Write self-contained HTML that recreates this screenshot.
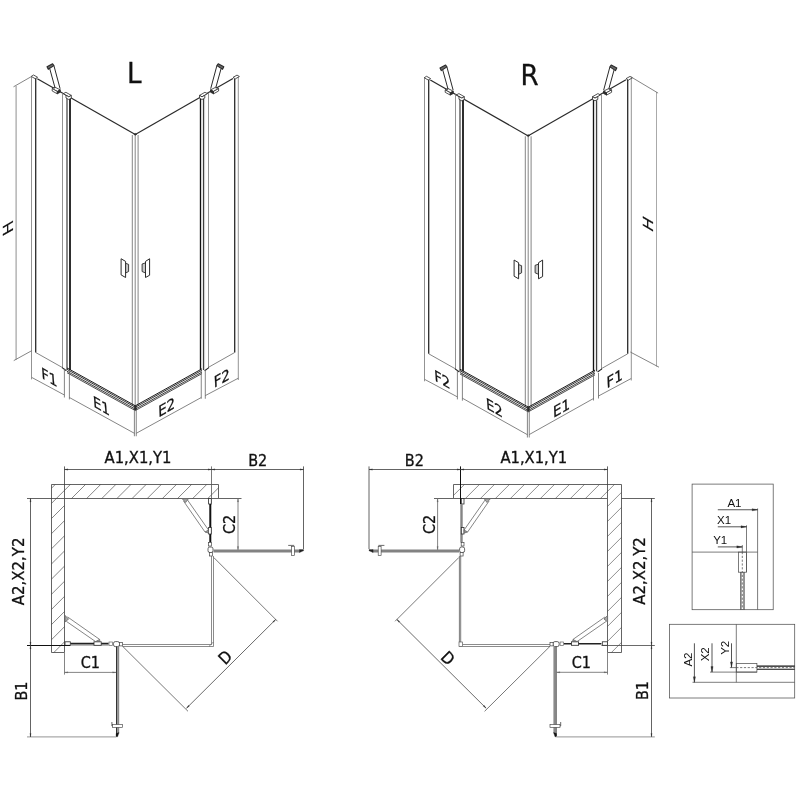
<!DOCTYPE html>
<html><head><meta charset="utf-8"><title>L / R</title>
<style>
html,body{margin:0;padding:0;background:#fff;}
body{width:800px;height:800px;overflow:hidden;}
svg{display:block;filter:grayscale(1);}
.t{font-family:"DejaVu Sans Condensed","DejaVu Sans","Liberation Sans",sans-serif;font-stretch:condensed;fill:#111;stroke:#111;stroke-width:0.3px;}
.a{font-family:"Liberation Sans","DejaVu Sans",sans-serif;fill:#111;}
</style></head><body>
<svg width="800" height="800" viewBox="0 0 800 800">
<rect width="800" height="800" fill="#fff"/>
<defs><clipPath id="wl"><polygon points="51.50,484.50 218.50,484.50 218.50,498.50 64.50,498.50 64.50,652.50 51.50,652.50"/></clipPath><clipPath id="wr"><polygon points="621.50,484.50 453.50,484.50 453.50,498.50 607.50,498.50 607.50,652.50 621.50,652.50"/></clipPath></defs>
<g transform="translate(0,0)">
<line x1="31.50" y1="76.50" x2="31.50" y2="379.40" stroke="#777" stroke-width="0.8" />
<line x1="35.70" y1="78.00" x2="35.70" y2="352.50" stroke="#2a2a2a" stroke-width="1.3" />
<polygon points="31.20,76.40 33.60,75.00 37.60,77.30 35.20,78.70" fill="#fff" stroke="#2a2a2a" stroke-width="0.8" stroke-linejoin="round"/>
<line x1="37.30" y1="78.80" x2="135.30" y2="134.60" stroke="#2a2a2a" stroke-width="1.2" />
<line x1="135.30" y1="134.50" x2="233.00" y2="78.50" stroke="#2a2a2a" stroke-width="1.2" />
<line x1="62.50" y1="92.80" x2="62.50" y2="368.00" stroke="#777" stroke-width="0.8" />
<line x1="67.00" y1="98.00" x2="67.00" y2="370.00" stroke="#858585" stroke-width="1.9" />
<line x1="70.00" y1="98.00" x2="70.00" y2="370.00" stroke="#2e2e2e" stroke-width="2.0" />
<polygon points="63.40,93.60 65.90,92.30 71.30,95.40 68.80,96.80" fill="#fff" stroke="#2a2a2a" stroke-width="0.8" stroke-linejoin="round"/>
<polygon points="66.00,95.30 68.80,96.80 71.30,95.40 71.30,98.20 68.80,99.50 66.00,98.00" fill="#fff" stroke="#2a2a2a" stroke-width="0.8" stroke-linejoin="round"/>
<line x1="132.30" y1="135.00" x2="132.30" y2="406.00" stroke="#666" stroke-width="0.8" />
<line x1="135.20" y1="135.00" x2="135.20" y2="406.00" stroke="#666" stroke-width="0.8" />
<line x1="138.10" y1="135.00" x2="138.10" y2="406.00" stroke="#666" stroke-width="0.8" />
<polygon points="133.80,134.20 135.30,133.40 136.80,134.20 135.30,135.30" fill="#2a2a2a" stroke="#2a2a2a" stroke-width="0.6" stroke-linejoin="round"/>
<line x1="200.50" y1="98.00" x2="200.50" y2="370.00" stroke="#111" stroke-width="1.35" />
<line x1="203.40" y1="99.00" x2="203.40" y2="370.00" stroke="#2a2a2a" stroke-width="1.0" />
<line x1="204.60" y1="98.00" x2="204.60" y2="370.00" stroke="#bbb" stroke-width="0.7" />
<line x1="208.50" y1="92.80" x2="208.50" y2="368.00" stroke="#777" stroke-width="0.8" />
<polygon points="199.50,95.40 204.90,92.30 207.40,93.60 202.00,96.80" fill="#fff" stroke="#2a2a2a" stroke-width="0.8" stroke-linejoin="round"/>
<polygon points="199.50,95.40 202.00,96.80 204.80,95.30 204.80,98.00 202.00,99.50 199.50,98.20" fill="#fff" stroke="#2a2a2a" stroke-width="0.8" stroke-linejoin="round"/>
<line x1="234.70" y1="78.70" x2="234.70" y2="352.50" stroke="#2a2a2a" stroke-width="1.3" />
<line x1="238.30" y1="76.80" x2="238.30" y2="380.00" stroke="#777" stroke-width="0.8" />
<polygon points="233.00,77.40 237.00,75.10 239.40,76.50 235.40,78.80" fill="#fff" stroke="#2a2a2a" stroke-width="0.8" stroke-linejoin="round"/>
<line x1="35.70" y1="352.50" x2="62.50" y2="367.60" stroke="#666" stroke-width="0.8" />
<line x1="234.70" y1="352.50" x2="208.50" y2="367.30" stroke="#666" stroke-width="0.8" />
<line x1="67.00" y1="367.94" x2="135.30" y2="405.80" stroke="#1c1c1c" stroke-width="1.0" />
<line x1="202.00" y1="368.80" x2="135.30" y2="405.80" stroke="#1c1c1c" stroke-width="1.0" />
<line x1="67.00" y1="369.39" x2="135.30" y2="407.25" stroke="#2a2a2a" stroke-width="0.95" />
<line x1="202.00" y1="370.25" x2="135.30" y2="407.25" stroke="#2a2a2a" stroke-width="0.95" />
<line x1="67.00" y1="371.24" x2="135.30" y2="409.10" stroke="#333" stroke-width="0.95" />
<line x1="202.00" y1="372.10" x2="135.30" y2="409.10" stroke="#333" stroke-width="0.95" />
<line x1="67.00" y1="372.69" x2="135.30" y2="410.55" stroke="#444" stroke-width="0.95" />
<line x1="202.00" y1="373.55" x2="135.30" y2="410.55" stroke="#444" stroke-width="0.95" />
<polygon points="134.30,405.50 136.30,405.50 136.30,410.00 134.30,410.00" fill="#2a2a2a" stroke="#2a2a2a" stroke-width="0.6" stroke-linejoin="round"/>
<line x1="62.10" y1="367.60" x2="66.40" y2="370.70" stroke="#222" stroke-width="1.1" />
<line x1="208.90" y1="367.60" x2="204.60" y2="370.70" stroke="#222" stroke-width="1.1" />
<polygon points="47.00,66.80 52.60,63.70 53.90,65.60 48.25,69.30" fill="#6a6a6a" stroke="#2a2a2a" stroke-width="1.1" stroke-linejoin="round"/>
<line x1="49.75" y1="68.70" x2="55.10" y2="88.10" stroke="#2a2a2a" stroke-width="1.0" />
<line x1="53.90" y1="65.60" x2="60.10" y2="88.70" stroke="#2a2a2a" stroke-width="1.0" />
<polygon points="52.20,88.60 55.00,87.20 60.30,89.90 57.30,91.40" fill="#fff" stroke="#2a2a2a" stroke-width="0.8" stroke-linejoin="round"/>
<polygon points="52.20,88.60 57.30,91.40 57.30,93.80 52.20,91.00" fill="#fff" stroke="#2a2a2a" stroke-width="0.8" stroke-linejoin="round"/>
<polygon points="57.30,91.40 60.30,89.90 60.30,92.20 57.30,93.80" fill="#2a2a2a" stroke="#2a2a2a" stroke-width="0.8" stroke-linejoin="round"/>
<line x1="53.60" y1="87.90" x2="55.10" y2="88.10" stroke="#2a2a2a" stroke-width="0.8" />
<polygon points="223.80,66.80 218.20,63.70 216.90,65.60 222.55,69.30" fill="#6a6a6a" stroke="#2a2a2a" stroke-width="1.1" stroke-linejoin="round"/>
<line x1="221.05" y1="68.70" x2="215.70" y2="88.10" stroke="#2a2a2a" stroke-width="1.0" />
<line x1="216.90" y1="65.60" x2="210.70" y2="88.70" stroke="#2a2a2a" stroke-width="1.0" />
<polygon points="218.60,88.60 215.80,87.20 210.50,89.90 213.50,91.40" fill="#fff" stroke="#2a2a2a" stroke-width="0.8" stroke-linejoin="round"/>
<polygon points="218.60,88.60 213.50,91.40 213.50,93.80 218.60,91.00" fill="#fff" stroke="#2a2a2a" stroke-width="0.8" stroke-linejoin="round"/>
<polygon points="213.50,91.40 210.50,89.90 210.50,92.20 213.50,93.80" fill="#2a2a2a" stroke="#2a2a2a" stroke-width="0.8" stroke-linejoin="round"/>
<line x1="217.20" y1="87.90" x2="215.70" y2="88.10" stroke="#2a2a2a" stroke-width="0.8" />
<polygon points="121.10,258.75 125.60,261.40 125.60,277.50 121.10,274.90" fill="#fff" stroke="#2a2a2a" stroke-width="1.0" stroke-linejoin="round"/>
<polygon points="125.60,263.30 128.60,264.40 128.60,271.50 125.60,273.00" fill="#c8c8c8" stroke="#2a2a2a" stroke-width="0.9" stroke-linejoin="round"/>
<polygon points="145.50,261.40 149.60,258.75 149.60,275.25 145.50,277.50" fill="#fff" stroke="#2a2a2a" stroke-width="1.0" stroke-linejoin="round"/>
<polygon points="142.10,264.00 145.50,262.90 145.50,273.00 142.10,271.50" fill="#c8c8c8" stroke="#2a2a2a" stroke-width="0.9" stroke-linejoin="round"/>
<g>
<line x1="64.40" y1="368.75" x2="64.40" y2="397.50" stroke="#666" stroke-width="0.8" />
<line x1="31.90" y1="377.50" x2="64.40" y2="395.00" stroke="#666" stroke-width="0.8" />
<line x1="69.40" y1="371.00" x2="69.40" y2="399.40" stroke="#666" stroke-width="0.8" />
<line x1="134.40" y1="410.00" x2="134.40" y2="436.25" stroke="#666" stroke-width="0.8" />
<line x1="69.40" y1="397.50" x2="134.40" y2="433.30" stroke="#666" stroke-width="0.8" />
<line x1="136.25" y1="410.00" x2="136.25" y2="436.25" stroke="#666" stroke-width="0.8" />
<line x1="201.25" y1="370.00" x2="201.25" y2="398.75" stroke="#666" stroke-width="0.8" />
<line x1="136.25" y1="433.30" x2="201.25" y2="397.50" stroke="#666" stroke-width="0.8" />
<line x1="205.30" y1="370.00" x2="205.30" y2="398.75" stroke="#666" stroke-width="0.8" />
<line x1="205.30" y1="395.60" x2="238.30" y2="378.20" stroke="#666" stroke-width="0.8" />
</g>
</g>
<g transform="translate(393,1.3)">
<line x1="31.50" y1="76.50" x2="31.50" y2="380.00" stroke="#777" stroke-width="0.8" />
<line x1="35.70" y1="78.00" x2="35.70" y2="352.50" stroke="#2a2a2a" stroke-width="1.3" />
<polygon points="31.20,76.40 33.60,75.00 37.60,77.30 35.20,78.70" fill="#fff" stroke="#2a2a2a" stroke-width="0.8" stroke-linejoin="round"/>
<line x1="37.30" y1="78.80" x2="135.30" y2="134.60" stroke="#2a2a2a" stroke-width="1.2" />
<line x1="135.30" y1="134.50" x2="233.00" y2="78.50" stroke="#2a2a2a" stroke-width="1.2" />
<line x1="62.50" y1="92.80" x2="62.50" y2="368.00" stroke="#777" stroke-width="0.8" />
<line x1="67.00" y1="98.00" x2="67.00" y2="370.00" stroke="#858585" stroke-width="1.9" />
<line x1="70.00" y1="98.00" x2="70.00" y2="370.00" stroke="#2e2e2e" stroke-width="2.0" />
<polygon points="63.40,93.60 65.90,92.30 71.30,95.40 68.80,96.80" fill="#fff" stroke="#2a2a2a" stroke-width="0.8" stroke-linejoin="round"/>
<polygon points="66.00,95.30 68.80,96.80 71.30,95.40 71.30,98.20 68.80,99.50 66.00,98.00" fill="#fff" stroke="#2a2a2a" stroke-width="0.8" stroke-linejoin="round"/>
<line x1="132.30" y1="135.00" x2="132.30" y2="406.00" stroke="#666" stroke-width="0.8" />
<line x1="135.20" y1="135.00" x2="135.20" y2="406.00" stroke="#666" stroke-width="0.8" />
<line x1="138.10" y1="135.00" x2="138.10" y2="406.00" stroke="#666" stroke-width="0.8" />
<polygon points="133.80,134.20 135.30,133.40 136.80,134.20 135.30,135.30" fill="#2a2a2a" stroke="#2a2a2a" stroke-width="0.6" stroke-linejoin="round"/>
<line x1="200.50" y1="98.00" x2="200.50" y2="370.00" stroke="#111" stroke-width="1.35" />
<line x1="203.40" y1="99.00" x2="203.40" y2="370.00" stroke="#2a2a2a" stroke-width="1.0" />
<line x1="204.60" y1="98.00" x2="204.60" y2="370.00" stroke="#bbb" stroke-width="0.7" />
<line x1="208.50" y1="92.80" x2="208.50" y2="368.00" stroke="#777" stroke-width="0.8" />
<polygon points="199.50,95.40 204.90,92.30 207.40,93.60 202.00,96.80" fill="#fff" stroke="#2a2a2a" stroke-width="0.8" stroke-linejoin="round"/>
<polygon points="199.50,95.40 202.00,96.80 204.80,95.30 204.80,98.00 202.00,99.50 199.50,98.20" fill="#fff" stroke="#2a2a2a" stroke-width="0.8" stroke-linejoin="round"/>
<line x1="234.70" y1="78.70" x2="234.70" y2="352.50" stroke="#2a2a2a" stroke-width="1.3" />
<line x1="238.30" y1="76.80" x2="238.30" y2="379.20" stroke="#777" stroke-width="0.8" />
<polygon points="233.00,77.40 237.00,75.10 239.40,76.50 235.40,78.80" fill="#fff" stroke="#2a2a2a" stroke-width="0.8" stroke-linejoin="round"/>
<line x1="35.70" y1="352.50" x2="62.50" y2="367.60" stroke="#666" stroke-width="0.8" />
<line x1="234.70" y1="352.50" x2="208.50" y2="367.30" stroke="#666" stroke-width="0.8" />
<line x1="67.00" y1="367.94" x2="135.30" y2="405.80" stroke="#1c1c1c" stroke-width="1.0" />
<line x1="202.00" y1="368.80" x2="135.30" y2="405.80" stroke="#1c1c1c" stroke-width="1.0" />
<line x1="67.00" y1="369.39" x2="135.30" y2="407.25" stroke="#2a2a2a" stroke-width="0.95" />
<line x1="202.00" y1="370.25" x2="135.30" y2="407.25" stroke="#2a2a2a" stroke-width="0.95" />
<line x1="67.00" y1="371.24" x2="135.30" y2="409.10" stroke="#333" stroke-width="0.95" />
<line x1="202.00" y1="372.10" x2="135.30" y2="409.10" stroke="#333" stroke-width="0.95" />
<line x1="67.00" y1="372.69" x2="135.30" y2="410.55" stroke="#444" stroke-width="0.95" />
<line x1="202.00" y1="373.55" x2="135.30" y2="410.55" stroke="#444" stroke-width="0.95" />
<polygon points="134.30,405.50 136.30,405.50 136.30,410.00 134.30,410.00" fill="#2a2a2a" stroke="#2a2a2a" stroke-width="0.6" stroke-linejoin="round"/>
<line x1="62.10" y1="367.60" x2="66.40" y2="370.70" stroke="#222" stroke-width="1.1" />
<line x1="208.90" y1="367.60" x2="204.60" y2="370.70" stroke="#222" stroke-width="1.1" />
<polygon points="47.00,66.80 52.60,63.70 53.90,65.60 48.25,69.30" fill="#6a6a6a" stroke="#2a2a2a" stroke-width="1.1" stroke-linejoin="round"/>
<line x1="49.75" y1="68.70" x2="55.10" y2="88.10" stroke="#2a2a2a" stroke-width="1.0" />
<line x1="53.90" y1="65.60" x2="60.10" y2="88.70" stroke="#2a2a2a" stroke-width="1.0" />
<polygon points="52.20,88.60 55.00,87.20 60.30,89.90 57.30,91.40" fill="#fff" stroke="#2a2a2a" stroke-width="0.8" stroke-linejoin="round"/>
<polygon points="52.20,88.60 57.30,91.40 57.30,93.80 52.20,91.00" fill="#fff" stroke="#2a2a2a" stroke-width="0.8" stroke-linejoin="round"/>
<polygon points="57.30,91.40 60.30,89.90 60.30,92.20 57.30,93.80" fill="#2a2a2a" stroke="#2a2a2a" stroke-width="0.8" stroke-linejoin="round"/>
<line x1="53.60" y1="87.90" x2="55.10" y2="88.10" stroke="#2a2a2a" stroke-width="0.8" />
<polygon points="223.80,66.80 218.20,63.70 216.90,65.60 222.55,69.30" fill="#6a6a6a" stroke="#2a2a2a" stroke-width="1.1" stroke-linejoin="round"/>
<line x1="221.05" y1="68.70" x2="215.70" y2="88.10" stroke="#2a2a2a" stroke-width="1.0" />
<line x1="216.90" y1="65.60" x2="210.70" y2="88.70" stroke="#2a2a2a" stroke-width="1.0" />
<polygon points="218.60,88.60 215.80,87.20 210.50,89.90 213.50,91.40" fill="#fff" stroke="#2a2a2a" stroke-width="0.8" stroke-linejoin="round"/>
<polygon points="218.60,88.60 213.50,91.40 213.50,93.80 218.60,91.00" fill="#fff" stroke="#2a2a2a" stroke-width="0.8" stroke-linejoin="round"/>
<polygon points="213.50,91.40 210.50,89.90 210.50,92.20 213.50,93.80" fill="#2a2a2a" stroke="#2a2a2a" stroke-width="0.8" stroke-linejoin="round"/>
<line x1="217.20" y1="87.90" x2="215.70" y2="88.10" stroke="#2a2a2a" stroke-width="0.8" />
<polygon points="121.10,258.75 125.60,261.40 125.60,277.50 121.10,274.90" fill="#fff" stroke="#2a2a2a" stroke-width="1.0" stroke-linejoin="round"/>
<polygon points="125.60,263.30 128.60,264.40 128.60,271.50 125.60,273.00" fill="#c8c8c8" stroke="#2a2a2a" stroke-width="0.9" stroke-linejoin="round"/>
<polygon points="145.50,261.40 149.60,258.75 149.60,275.25 145.50,277.50" fill="#fff" stroke="#2a2a2a" stroke-width="1.0" stroke-linejoin="round"/>
<polygon points="142.10,264.00 145.50,262.90 145.50,273.00 142.10,271.50" fill="#c8c8c8" stroke="#2a2a2a" stroke-width="0.9" stroke-linejoin="round"/>
</g>
<line x1="457.40" y1="370.60" x2="457.40" y2="399.40" stroke="#666" stroke-width="0.8" />
<line x1="424.70" y1="379.40" x2="457.40" y2="396.90" stroke="#666" stroke-width="0.8" />
<line x1="462.40" y1="372.30" x2="462.40" y2="400.70" stroke="#666" stroke-width="0.8" />
<line x1="527.40" y1="411.30" x2="527.40" y2="437.50" stroke="#666" stroke-width="0.8" />
<line x1="462.40" y1="398.20" x2="527.40" y2="434.70" stroke="#666" stroke-width="0.8" />
<line x1="529.25" y1="411.30" x2="529.25" y2="437.50" stroke="#666" stroke-width="0.8" />
<line x1="593.50" y1="373.00" x2="593.50" y2="400.50" stroke="#666" stroke-width="0.8" />
<line x1="529.25" y1="434.55" x2="593.50" y2="398.50" stroke="#666" stroke-width="0.8" />
<line x1="598.50" y1="373.00" x2="598.50" y2="398.50" stroke="#666" stroke-width="0.8" />
<line x1="598.50" y1="396.00" x2="631.20" y2="378.50" stroke="#666" stroke-width="0.8" />
<line x1="16.10" y1="86.00" x2="16.10" y2="359.75" stroke="#999" stroke-width="1.1" />
<line x1="31.50" y1="76.50" x2="13.50" y2="86.80" stroke="#666" stroke-width="0.8" />
<line x1="31.90" y1="350.60" x2="13.75" y2="360.60" stroke="#666" stroke-width="0.8" />
<line x1="656.50" y1="92.00" x2="656.50" y2="366.50" stroke="#aaa" stroke-width="1.0" />
<line x1="631.00" y1="76.90" x2="658.10" y2="93.10" stroke="#666" stroke-width="0.8" />
<line x1="630.30" y1="352.00" x2="659.00" y2="367.20" stroke="#666" stroke-width="0.8" />
<text class="t" font-size="16" text-anchor="start" transform="matrix(0.92,0.53,0.08,0.96,41.7,378.0)" >F1</text>
<text class="t" font-size="16" text-anchor="start" transform="matrix(0.92,0.53,0.08,0.96,93.4,406.5)" >E1</text>
<text class="t" font-size="16" text-anchor="start" transform="matrix(0.92,-0.53,0.04,0.95,158.4,417.4)" >E2</text>
<text class="t" font-size="16" text-anchor="start" transform="matrix(0.92,-0.53,0.04,0.95,214.0,388.1)" >F2</text>
<text class="t" font-size="16" text-anchor="start" transform="matrix(0.92,0.53,0.08,0.96,434.7,380.4)" >F2</text>
<text class="t" font-size="16" text-anchor="start" transform="matrix(0.92,0.53,0.08,0.96,486.4,408.5)" >E2</text>
<text class="t" font-size="16" text-anchor="start" transform="matrix(0.92,-0.53,0.04,0.95,553.3,418.1)" >E1</text>
<text class="t" font-size="16" text-anchor="start" transform="matrix(0.92,-0.53,0.04,0.95,606.8,388.4)" >F1</text>
<text class="t" font-size="16" text-anchor="start" transform="matrix(0,-1.15,0.866,-0.5,13.3,231.6)" style="stroke-width:0.15px">H</text>
<text class="t" font-size="16" text-anchor="start" transform="matrix(0,-1.15,0.866,0.5,652.9,233.1)" style="stroke-width:0.2px">H</text>
<text class="t" x="127.10" y="82.90" font-size="29" text-anchor="start" >L</text>
<text class="t" x="520.60" y="84.60" font-size="29" text-anchor="start" >R</text>
<g clip-path="url(#wl)">
<line x1="124.55" y1="400.00" x2="-175.45" y2="700.00" stroke="#444" stroke-width="0.65" />
<line x1="139.70" y1="400.00" x2="-160.30" y2="700.00" stroke="#444" stroke-width="0.65" />
<line x1="154.85" y1="400.00" x2="-145.15" y2="700.00" stroke="#444" stroke-width="0.65" />
<line x1="170.00" y1="400.00" x2="-130.00" y2="700.00" stroke="#444" stroke-width="0.65" />
<line x1="185.15" y1="400.00" x2="-114.85" y2="700.00" stroke="#444" stroke-width="0.65" />
<line x1="200.30" y1="400.00" x2="-99.70" y2="700.00" stroke="#444" stroke-width="0.65" />
<line x1="215.45" y1="400.00" x2="-84.55" y2="700.00" stroke="#444" stroke-width="0.65" />
<line x1="230.60" y1="400.00" x2="-69.40" y2="700.00" stroke="#444" stroke-width="0.65" />
<line x1="245.75" y1="400.00" x2="-54.25" y2="700.00" stroke="#444" stroke-width="0.65" />
<line x1="260.90" y1="400.00" x2="-39.10" y2="700.00" stroke="#444" stroke-width="0.65" />
<line x1="276.05" y1="400.00" x2="-23.95" y2="700.00" stroke="#444" stroke-width="0.65" />
<line x1="291.20" y1="400.00" x2="-8.80" y2="700.00" stroke="#444" stroke-width="0.65" />
<line x1="306.35" y1="400.00" x2="6.35" y2="700.00" stroke="#444" stroke-width="0.65" />
<line x1="321.50" y1="400.00" x2="21.50" y2="700.00" stroke="#444" stroke-width="0.65" />
<line x1="336.65" y1="400.00" x2="36.65" y2="700.00" stroke="#444" stroke-width="0.65" />
<line x1="351.80" y1="400.00" x2="51.80" y2="700.00" stroke="#444" stroke-width="0.65" />
<line x1="366.95" y1="400.00" x2="66.95" y2="700.00" stroke="#444" stroke-width="0.65" />
<line x1="382.10" y1="400.00" x2="82.10" y2="700.00" stroke="#444" stroke-width="0.65" />
<line x1="397.25" y1="400.00" x2="97.25" y2="700.00" stroke="#444" stroke-width="0.65" />
<line x1="412.40" y1="400.00" x2="112.40" y2="700.00" stroke="#444" stroke-width="0.65" />
<line x1="427.55" y1="400.00" x2="127.55" y2="700.00" stroke="#444" stroke-width="0.65" />
<line x1="442.70" y1="400.00" x2="142.70" y2="700.00" stroke="#444" stroke-width="0.65" />
<line x1="457.85" y1="400.00" x2="157.85" y2="700.00" stroke="#444" stroke-width="0.65" />
<line x1="473.00" y1="400.00" x2="173.00" y2="700.00" stroke="#444" stroke-width="0.65" />
<line x1="488.15" y1="400.00" x2="188.15" y2="700.00" stroke="#444" stroke-width="0.65" />
<line x1="503.30" y1="400.00" x2="203.30" y2="700.00" stroke="#444" stroke-width="0.65" />
<line x1="518.45" y1="400.00" x2="218.45" y2="700.00" stroke="#444" stroke-width="0.65" />
<line x1="533.60" y1="400.00" x2="233.60" y2="700.00" stroke="#444" stroke-width="0.65" />
<line x1="548.75" y1="400.00" x2="248.75" y2="700.00" stroke="#444" stroke-width="0.65" />
<line x1="563.90" y1="400.00" x2="263.90" y2="700.00" stroke="#444" stroke-width="0.65" />
<line x1="579.05" y1="400.00" x2="279.05" y2="700.00" stroke="#444" stroke-width="0.65" />
<line x1="594.20" y1="400.00" x2="294.20" y2="700.00" stroke="#444" stroke-width="0.65" />
</g>
<polygon points="51.50,484.50 218.50,484.50 218.50,498.50 64.50,498.50 64.50,652.50 51.50,652.50" fill="none" stroke="#3c3c3c" stroke-width="0.8" stroke-linejoin="round"/>
<g clip-path="url(#wr)">
<line x1="458.90" y1="400.00" x2="158.90" y2="700.00" stroke="#444" stroke-width="0.6" />
<line x1="473.90" y1="400.00" x2="173.90" y2="700.00" stroke="#444" stroke-width="0.6" />
<line x1="488.90" y1="400.00" x2="188.90" y2="700.00" stroke="#444" stroke-width="0.6" />
<line x1="503.90" y1="400.00" x2="203.90" y2="700.00" stroke="#444" stroke-width="0.6" />
<line x1="518.90" y1="400.00" x2="218.90" y2="700.00" stroke="#444" stroke-width="0.6" />
<line x1="533.90" y1="400.00" x2="233.90" y2="700.00" stroke="#444" stroke-width="0.6" />
<line x1="548.90" y1="400.00" x2="248.90" y2="700.00" stroke="#444" stroke-width="0.6" />
<line x1="563.90" y1="400.00" x2="263.90" y2="700.00" stroke="#444" stroke-width="0.6" />
<line x1="578.90" y1="400.00" x2="278.90" y2="700.00" stroke="#444" stroke-width="0.6" />
<line x1="593.90" y1="400.00" x2="293.90" y2="700.00" stroke="#444" stroke-width="0.6" />
<line x1="608.90" y1="400.00" x2="308.90" y2="700.00" stroke="#444" stroke-width="0.6" />
<line x1="623.90" y1="400.00" x2="323.90" y2="700.00" stroke="#444" stroke-width="0.6" />
<line x1="638.90" y1="400.00" x2="338.90" y2="700.00" stroke="#444" stroke-width="0.6" />
<line x1="653.90" y1="400.00" x2="353.90" y2="700.00" stroke="#444" stroke-width="0.6" />
<line x1="668.90" y1="400.00" x2="368.90" y2="700.00" stroke="#444" stroke-width="0.6" />
<line x1="683.90" y1="400.00" x2="383.90" y2="700.00" stroke="#444" stroke-width="0.6" />
<line x1="698.90" y1="400.00" x2="398.90" y2="700.00" stroke="#444" stroke-width="0.6" />
<line x1="713.90" y1="400.00" x2="413.90" y2="700.00" stroke="#444" stroke-width="0.6" />
<line x1="728.90" y1="400.00" x2="428.90" y2="700.00" stroke="#444" stroke-width="0.6" />
<line x1="743.90" y1="400.00" x2="443.90" y2="700.00" stroke="#444" stroke-width="0.6" />
<line x1="758.90" y1="400.00" x2="458.90" y2="700.00" stroke="#444" stroke-width="0.6" />
<line x1="773.90" y1="400.00" x2="473.90" y2="700.00" stroke="#444" stroke-width="0.6" />
<line x1="788.90" y1="400.00" x2="488.90" y2="700.00" stroke="#444" stroke-width="0.6" />
<line x1="803.90" y1="400.00" x2="503.90" y2="700.00" stroke="#444" stroke-width="0.6" />
<line x1="818.90" y1="400.00" x2="518.90" y2="700.00" stroke="#444" stroke-width="0.6" />
<line x1="833.90" y1="400.00" x2="533.90" y2="700.00" stroke="#444" stroke-width="0.6" />
<line x1="848.90" y1="400.00" x2="548.90" y2="700.00" stroke="#444" stroke-width="0.6" />
<line x1="863.90" y1="400.00" x2="563.90" y2="700.00" stroke="#444" stroke-width="0.6" />
<line x1="878.90" y1="400.00" x2="578.90" y2="700.00" stroke="#444" stroke-width="0.6" />
<line x1="893.90" y1="400.00" x2="593.90" y2="700.00" stroke="#444" stroke-width="0.6" />
<line x1="908.90" y1="400.00" x2="608.90" y2="700.00" stroke="#444" stroke-width="0.6" />
<line x1="923.90" y1="400.00" x2="623.90" y2="700.00" stroke="#444" stroke-width="0.6" />
<line x1="938.90" y1="400.00" x2="638.90" y2="700.00" stroke="#444" stroke-width="0.6" />
<line x1="953.90" y1="400.00" x2="653.90" y2="700.00" stroke="#444" stroke-width="0.6" />
<line x1="968.90" y1="400.00" x2="668.90" y2="700.00" stroke="#444" stroke-width="0.6" />
<line x1="983.90" y1="400.00" x2="683.90" y2="700.00" stroke="#444" stroke-width="0.6" />
<line x1="998.90" y1="400.00" x2="698.90" y2="700.00" stroke="#444" stroke-width="0.6" />
</g>
<polygon points="621.50,484.50 453.50,484.50 453.50,498.50 607.50,498.50 607.50,652.50 621.50,652.50" fill="none" stroke="#3c3c3c" stroke-width="0.8" stroke-linejoin="round"/>
<rect x="208.60" y="498.50" width="2.70" height="5.50" fill="#fff" stroke="#2a2a2a" stroke-width="0.8"/>
<line x1="210.30" y1="504.00" x2="210.30" y2="542.50" stroke="#111" stroke-width="2.0" />
<rect x="208.60" y="527.50" width="2.70" height="6.50" fill="#fff" stroke="#2a2a2a" stroke-width="0.8"/>
<line x1="183.50" y1="501.00" x2="205.00" y2="532.00" stroke="#666" stroke-width="0.8" />
<line x1="187.50" y1="500.00" x2="208.50" y2="530.00" stroke="#666" stroke-width="0.8" />
<polygon points="182.30,498.80 188.30,498.80 185.60,502.50" fill="#aaa" stroke="#666" stroke-width="0.8" stroke-linejoin="round"/>
<polygon points="205.00,532.00 208.50,530.00 208.30,533.00" fill="#999" stroke="#666" stroke-width="0.8" stroke-linejoin="round"/>
<rect x="208.60" y="542.50" width="2.80" height="3.50" fill="#fff" stroke="#444" stroke-width="0.7"/>
<rect x="208.00" y="547.00" width="5.00" height="5.50" rx="1.8" fill="#fff" stroke="#333" stroke-width="0.75"/>
<rect x="209.50" y="552.50" width="3.00" height="3.50" fill="#fff" stroke="#444" stroke-width="0.7"/>
<line x1="213.50" y1="551.00" x2="300.20" y2="551.00" stroke="#828282" stroke-width="3.0" />
<polygon points="299.50,549.60 303.60,549.60 303.60,550.80 299.50,552.50" fill="#222" stroke="#222" stroke-width="0.3" stroke-linejoin="round"/>
<rect x="291.50" y="546.60" width="2.90" height="9.00" fill="#fff" stroke="#444" stroke-width="0.65"/>
<polyline points="294.20,545.40 288.20,545.40" fill="none" stroke="#444" stroke-width="0.8"/>
<line x1="211.50" y1="556.00" x2="211.50" y2="644.50" stroke="#5a5a5a" stroke-width="0.7" />
<line x1="213.50" y1="556.00" x2="213.50" y2="646.50" stroke="#5a5a5a" stroke-width="0.7" />
<line x1="122.50" y1="644.50" x2="211.50" y2="644.50" stroke="#5a5a5a" stroke-width="0.7" />
<line x1="122.50" y1="646.50" x2="213.50" y2="646.50" stroke="#5a5a5a" stroke-width="0.7" />
<polyline points="209.50,646.50 209.50,645.50 211.50,644.50 212.50,642.50 213.50,642.50" fill="none" stroke="#5a5a5a" stroke-width="0.5"/>
<line x1="213.75" y1="557.50" x2="277.50" y2="621.25" stroke="#555" stroke-width="0.8" />
<line x1="122.50" y1="646.20" x2="188.00" y2="711.30" stroke="#555" stroke-width="0.8" />
<line x1="186.50" y1="708.20" x2="275.70" y2="619.50" stroke="#444" stroke-width="0.8" />
<rect x="65.00" y="641.80" width="5.30" height="3.50" fill="#fff" stroke="#2a2a2a" stroke-width="0.8"/>
<line x1="70.50" y1="643.50" x2="108.60" y2="643.50" stroke="#222" stroke-width="1.3" />
<line x1="70.50" y1="644.80" x2="108.60" y2="644.80" stroke="#777" stroke-width="1.3" />
<rect x="94.00" y="641.80" width="7.20" height="3.50" fill="#fff" stroke="#2a2a2a" stroke-width="0.8"/>
<line x1="67.50" y1="616.90" x2="99.60" y2="639.40" stroke="#666" stroke-width="0.8" />
<line x1="66.40" y1="621.40" x2="95.60" y2="641.60" stroke="#666" stroke-width="0.8" />
<polygon points="65.00,615.50 65.00,622.00 68.60,619.00" fill="#aaa" stroke="#666" stroke-width="0.8" stroke-linejoin="round"/>
<polygon points="99.60,639.40 95.60,641.60 100.00,641.60" fill="#999" stroke="#666" stroke-width="0.8" stroke-linejoin="round"/>
<rect x="109.00" y="642.00" width="3.50" height="3.40" fill="#fff" stroke="#666" stroke-width="0.7"/>
<rect x="113.50" y="641.60" width="6.00" height="5.00" rx="1.8" fill="#fff" stroke="#333" stroke-width="0.75"/>
<rect x="119.50" y="642.50" width="3.10" height="3.40" fill="#fff" stroke="#444" stroke-width="0.7"/>
<line x1="116.60" y1="646.50" x2="116.60" y2="736.00" stroke="#333" stroke-width="1.2" />
<line x1="118.20" y1="646.50" x2="118.20" y2="733.50" stroke="#8a8a8a" stroke-width="2.0" />
<polygon points="116.10,733.50 119.00,732.50 117.60,736.80 116.10,736.80" fill="#111" stroke="#111" stroke-width="0.3" stroke-linejoin="round"/>
<rect x="112.60" y="724.50" width="10.00" height="2.90" fill="#fff" stroke="#444" stroke-width="0.65"/>
<polyline points="112.40,726.00 111.90,726.00 111.90,722.00" fill="none" stroke="#444" stroke-width="0.8"/>
<rect x="461.30" y="498.50" width="2.70" height="5.50" fill="#fff" stroke="#2a2a2a" stroke-width="0.8"/>
<line x1="461.50" y1="504.00" x2="461.50" y2="542.50" stroke="#858585" stroke-width="2.4" />
<rect x="461.30" y="527.50" width="2.70" height="6.50" fill="#fff" stroke="#2a2a2a" stroke-width="0.8"/>
<line x1="489.10" y1="501.00" x2="467.60" y2="532.00" stroke="#666" stroke-width="0.8" />
<line x1="485.10" y1="500.00" x2="464.10" y2="530.00" stroke="#666" stroke-width="0.8" />
<polygon points="490.30,498.80 484.30,498.80 487.00,502.50" fill="#aaa" stroke="#666" stroke-width="0.8" stroke-linejoin="round"/>
<polygon points="467.60,532.00 464.10,530.00 464.30,533.00" fill="#999" stroke="#666" stroke-width="0.8" stroke-linejoin="round"/>
<rect x="461.20" y="542.50" width="2.80" height="3.50" fill="#fff" stroke="#444" stroke-width="0.7"/>
<rect x="459.60" y="547.00" width="5.00" height="5.50" rx="1.8" fill="#fff" stroke="#333" stroke-width="0.75"/>
<rect x="460.10" y="552.50" width="3.00" height="3.50" fill="#fff" stroke="#444" stroke-width="0.7"/>
<line x1="459.10" y1="551.00" x2="372.40" y2="551.00" stroke="#828282" stroke-width="3.0" />
<polygon points="373.10,549.60 369.00,549.60 369.00,550.80 373.10,552.50" fill="#222" stroke="#222" stroke-width="0.3" stroke-linejoin="round"/>
<rect x="378.20" y="546.60" width="2.90" height="9.00" fill="#fff" stroke="#444" stroke-width="0.65"/>
<polyline points="378.40,545.40 384.40,545.40" fill="none" stroke="#444" stroke-width="0.8"/>
<line x1="459.40" y1="556.00" x2="459.40" y2="642.00" stroke="#5a5a5a" stroke-width="0.8" />
<line x1="460.70" y1="556.00" x2="460.70" y2="644.50" stroke="#5a5a5a" stroke-width="0.8" />
<line x1="462.50" y1="644.50" x2="550.00" y2="644.50" stroke="#5a5a5a" stroke-width="0.7" />
<line x1="459.00" y1="646.50" x2="550.00" y2="646.50" stroke="#5a5a5a" stroke-width="0.7" />
<rect x="459.00" y="642.00" width="3.50" height="4.50" fill="#fff" stroke="#5a5a5a" stroke-width="0.7"/>
<line x1="458.85" y1="557.50" x2="395.10" y2="621.25" stroke="#555" stroke-width="0.8" />
<line x1="550.10" y1="646.20" x2="484.60" y2="711.30" stroke="#555" stroke-width="0.8" />
<line x1="486.10" y1="708.20" x2="396.90" y2="619.50" stroke="#444" stroke-width="0.8" />
<rect x="602.30" y="641.80" width="5.30" height="3.50" fill="#fff" stroke="#2a2a2a" stroke-width="0.8"/>
<line x1="563.80" y1="643.70" x2="601.40" y2="643.70" stroke="#222" stroke-width="1.4" />
<rect x="571.40" y="641.80" width="7.20" height="3.50" fill="#fff" stroke="#2a2a2a" stroke-width="0.8"/>
<line x1="605.10" y1="616.90" x2="573.00" y2="639.40" stroke="#666" stroke-width="0.8" />
<line x1="606.20" y1="621.40" x2="577.00" y2="641.60" stroke="#666" stroke-width="0.8" />
<polygon points="607.60,615.50 607.60,622.00 604.00,619.00" fill="#aaa" stroke="#666" stroke-width="0.8" stroke-linejoin="round"/>
<polygon points="573.00,639.40 577.00,641.60 572.60,641.60" fill="#999" stroke="#666" stroke-width="0.8" stroke-linejoin="round"/>
<rect x="560.10" y="642.00" width="3.50" height="3.40" fill="#fff" stroke="#666" stroke-width="0.7"/>
<rect x="553.10" y="641.60" width="6.00" height="5.00" rx="1.8" fill="#fff" stroke="#333" stroke-width="0.75"/>
<rect x="550.00" y="642.50" width="3.10" height="3.40" fill="#fff" stroke="#444" stroke-width="0.7"/>
<line x1="556.00" y1="646.50" x2="556.00" y2="736.00" stroke="#333" stroke-width="1.2" />
<line x1="554.40" y1="646.50" x2="554.40" y2="733.50" stroke="#8a8a8a" stroke-width="2.0" />
<polygon points="556.50,733.50 553.60,732.50 555.00,736.80 556.50,736.80" fill="#111" stroke="#111" stroke-width="0.3" stroke-linejoin="round"/>
<rect x="550.00" y="724.50" width="10.00" height="2.90" fill="#fff" stroke="#444" stroke-width="0.65"/>
<polyline points="560.20,726.00 560.70,726.00 560.70,722.00" fill="none" stroke="#444" stroke-width="0.8"/>
<line x1="64.50" y1="466.40" x2="64.50" y2="498.50" stroke="#3c3c3c" stroke-width="0.8" />
<line x1="211.50" y1="466.40" x2="211.50" y2="503.50" stroke="#555" stroke-width="0.8" />
<line x1="303.50" y1="466.40" x2="303.50" y2="549.00" stroke="#3c3c3c" stroke-width="0.8" />
<line x1="64.50" y1="469.50" x2="303.50" y2="469.50" stroke="#3c3c3c" stroke-width="0.8" />
<line x1="27.00" y1="498.50" x2="64.50" y2="498.50" stroke="#3c3c3c" stroke-width="0.8" />
<line x1="27.00" y1="645.50" x2="70.30" y2="645.50" stroke="#111" stroke-width="1.0" />
<line x1="27.00" y1="736.80" x2="116.00" y2="736.80" stroke="#aaa" stroke-width="1.3" />
<line x1="30.50" y1="498.50" x2="30.50" y2="737.00" stroke="#3c3c3c" stroke-width="0.8" />
<line x1="218.50" y1="498.50" x2="241.50" y2="498.50" stroke="#3c3c3c" stroke-width="0.8" />
<line x1="238.00" y1="498.50" x2="238.00" y2="549.80" stroke="#777" stroke-width="0.9" />
<line x1="64.50" y1="652.50" x2="64.50" y2="674.60" stroke="#777" stroke-width="0.9" />
<line x1="64.50" y1="672.40" x2="116.00" y2="672.40" stroke="#777" stroke-width="0.9" />
<line x1="607.50" y1="466.40" x2="607.50" y2="498.50" stroke="#3c3c3c" stroke-width="0.8" />
<line x1="460.50" y1="466.40" x2="460.50" y2="504.00" stroke="#111" stroke-width="1.0" />
<line x1="369.00" y1="466.40" x2="369.00" y2="549.00" stroke="#3c3c3c" stroke-width="0.8" />
<line x1="369.00" y1="469.50" x2="607.50" y2="469.50" stroke="#3c3c3c" stroke-width="0.8" />
<line x1="621.50" y1="498.50" x2="654.80" y2="498.50" stroke="#3c3c3c" stroke-width="0.8" />
<line x1="601.50" y1="645.50" x2="654.80" y2="645.50" stroke="#444" stroke-width="0.8" />
<line x1="556.50" y1="736.80" x2="654.80" y2="736.80" stroke="#aaa" stroke-width="1.3" />
<line x1="651.50" y1="498.50" x2="651.50" y2="736.80" stroke="#3c3c3c" stroke-width="0.8" />
<line x1="434.00" y1="498.50" x2="453.50" y2="498.50" stroke="#3c3c3c" stroke-width="0.8" />
<line x1="437.60" y1="498.50" x2="437.60" y2="549.80" stroke="#777" stroke-width="0.9" />
<line x1="607.50" y1="652.50" x2="607.50" y2="674.60" stroke="#777" stroke-width="0.9" />
<line x1="556.50" y1="672.30" x2="607.50" y2="672.30" stroke="#777" stroke-width="0.9" />
<polygon points="64.50,469.50 67.90,470.15 67.90,468.85" fill="#333" stroke="#333" stroke-width="0.2" stroke-linejoin="round"/>
<polygon points="211.50,469.50 208.10,468.85 208.10,470.15" fill="#333" stroke="#333" stroke-width="0.2" stroke-linejoin="round"/>
<polygon points="211.50,469.50 214.90,470.15 214.90,468.85" fill="#333" stroke="#333" stroke-width="0.2" stroke-linejoin="round"/>
<polygon points="303.50,469.50 300.10,468.85 300.10,470.15" fill="#333" stroke="#333" stroke-width="0.2" stroke-linejoin="round"/>
<polygon points="30.50,498.50 29.85,501.90 31.15,501.90" fill="#333" stroke="#333" stroke-width="0.2" stroke-linejoin="round"/>
<polygon points="30.50,645.50 31.15,642.10 29.85,642.10" fill="#333" stroke="#333" stroke-width="0.2" stroke-linejoin="round"/>
<polygon points="30.50,645.50 29.85,648.90 31.15,648.90" fill="#333" stroke="#333" stroke-width="0.2" stroke-linejoin="round"/>
<polygon points="30.50,736.80 31.15,733.40 29.85,733.40" fill="#333" stroke="#333" stroke-width="0.2" stroke-linejoin="round"/>
<polygon points="238.00,498.50 237.35,501.90 238.65,501.90" fill="#666" stroke="#666" stroke-width="0.2" stroke-linejoin="round"/>
<polygon points="238.00,549.80 238.65,546.40 237.35,546.40" fill="#666" stroke="#666" stroke-width="0.2" stroke-linejoin="round"/>
<polygon points="64.50,672.40 67.90,673.05 67.90,671.75" fill="#666" stroke="#666" stroke-width="0.2" stroke-linejoin="round"/>
<polygon points="116.00,672.40 112.60,671.75 112.60,673.05" fill="#666" stroke="#666" stroke-width="0.2" stroke-linejoin="round"/>
<polygon points="186.50,708.20 189.36,706.26 188.44,705.34" fill="#333" stroke="#333" stroke-width="0.2" stroke-linejoin="round"/>
<polygon points="275.70,619.50 272.84,621.44 273.76,622.36" fill="#333" stroke="#333" stroke-width="0.2" stroke-linejoin="round"/>
<polygon points="369.00,469.50 372.40,470.15 372.40,468.85" fill="#333" stroke="#333" stroke-width="0.2" stroke-linejoin="round"/>
<polygon points="460.50,469.50 457.10,468.85 457.10,470.15" fill="#333" stroke="#333" stroke-width="0.2" stroke-linejoin="round"/>
<polygon points="460.50,469.50 463.90,470.15 463.90,468.85" fill="#333" stroke="#333" stroke-width="0.2" stroke-linejoin="round"/>
<polygon points="607.50,469.50 604.10,468.85 604.10,470.15" fill="#333" stroke="#333" stroke-width="0.2" stroke-linejoin="round"/>
<polygon points="651.50,498.50 650.85,501.90 652.15,501.90" fill="#333" stroke="#333" stroke-width="0.2" stroke-linejoin="round"/>
<polygon points="651.50,645.50 652.15,642.10 650.85,642.10" fill="#333" stroke="#333" stroke-width="0.2" stroke-linejoin="round"/>
<polygon points="651.50,645.50 650.85,648.90 652.15,648.90" fill="#333" stroke="#333" stroke-width="0.2" stroke-linejoin="round"/>
<polygon points="651.50,736.80 652.15,733.40 650.85,733.40" fill="#333" stroke="#333" stroke-width="0.2" stroke-linejoin="round"/>
<polygon points="437.60,498.50 436.95,501.90 438.25,501.90" fill="#666" stroke="#666" stroke-width="0.2" stroke-linejoin="round"/>
<polygon points="437.60,549.80 438.25,546.40 436.95,546.40" fill="#666" stroke="#666" stroke-width="0.2" stroke-linejoin="round"/>
<polygon points="556.50,672.30 559.90,672.95 559.90,671.65" fill="#666" stroke="#666" stroke-width="0.2" stroke-linejoin="round"/>
<polygon points="607.50,672.30 604.10,671.65 604.10,672.95" fill="#666" stroke="#666" stroke-width="0.2" stroke-linejoin="round"/>
<polygon points="486.10,708.20 484.16,705.34 483.24,706.26" fill="#333" stroke="#333" stroke-width="0.2" stroke-linejoin="round"/>
<polygon points="396.90,619.50 398.84,622.36 399.76,621.44" fill="#333" stroke="#333" stroke-width="0.2" stroke-linejoin="round"/>
<text class="t" x="104.60" y="462.90" font-size="16" text-anchor="start" textLength="66.8" lengthAdjust="spacingAndGlyphs">A1,X1,Y1</text>
<text class="t" x="248.20" y="466.40" font-size="16" text-anchor="start" >B2</text>
<text class="t" x="80.80" y="668.40" font-size="16" text-anchor="start" >C1</text>
<text class="t" x="500.40" y="462.90" font-size="16" text-anchor="start" textLength="66.8" lengthAdjust="spacingAndGlyphs">A1,X1,Y1</text>
<text class="t" x="404.80" y="466.40" font-size="16" text-anchor="start" >B2</text>
<text class="t" x="571.80" y="668.40" font-size="16" text-anchor="start" >C1</text>
<text class="t" x="0.00" y="0.00" font-size="16" text-anchor="start" transform="translate(23.9,605.2) rotate(-90)" textLength="67.6" lengthAdjust="spacingAndGlyphs">A2,X2,Y2</text>
<text class="t" x="0.00" y="0.00" font-size="16" text-anchor="start" transform="translate(27.4,700.5) rotate(-90)" >B1</text>
<text class="t" x="0.00" y="0.00" font-size="16" text-anchor="start" transform="translate(235,534) rotate(-90)" >C2</text>
<text class="t" x="0.00" y="0.00" font-size="16" text-anchor="start" transform="translate(645.0,604.8) rotate(-90)" textLength="67.6" lengthAdjust="spacingAndGlyphs">A2,X2,Y2</text>
<text class="t" x="0.00" y="0.00" font-size="16" text-anchor="start" transform="translate(648.4,700) rotate(-90)" >B1</text>
<text class="t" x="0.00" y="0.00" font-size="16" text-anchor="start" transform="translate(435,534) rotate(-90)" >C2</text>
<text class="t" x="0.00" y="0.00" font-size="16.5" text-anchor="middle" transform="translate(229.4,661.5) rotate(-45)" >D</text>
<text class="t" x="0.00" y="0.00" font-size="16.5" text-anchor="middle" transform="translate(443.8,662.2) rotate(45)" >D</text>
<rect x="692.10" y="484.10" width="81.10" height="125.60" fill="none" stroke="#505050" stroke-width="0.75"/>
<line x1="692.10" y1="552.10" x2="757.60" y2="552.10" stroke="#505050" stroke-width="0.75" />
<line x1="757.60" y1="508.40" x2="757.60" y2="609.70" stroke="#505050" stroke-width="0.75" />
<line x1="746.50" y1="525.30" x2="746.50" y2="572.20" stroke="#505050" stroke-width="0.75" />
<line x1="742.30" y1="545.00" x2="742.30" y2="552.00" stroke="#505050" stroke-width="0.75" />
<line x1="742.30" y1="552.00" x2="742.30" y2="609.70" stroke="#444" stroke-width="0.7" stroke-dasharray="2.2,1.6"/>
<rect x="738.40" y="552.10" width="8.10" height="20.10" fill="none" stroke="#505050" stroke-width="0.75"/>
<line x1="740.90" y1="572.20" x2="740.90" y2="609.70" stroke="#2a2a2a" stroke-width="1.0" />
<line x1="744.00" y1="572.20" x2="744.00" y2="609.70" stroke="#2a2a2a" stroke-width="1.0" />
<line x1="717.80" y1="509.75" x2="757.60" y2="509.75" stroke="#2a2a2a" stroke-width="0.8" />
<polygon points="757.60,509.75 752.10,508.65 752.10,510.85" fill="#2a2a2a" stroke="#2a2a2a" stroke-width="0.3" stroke-linejoin="round"/>
<line x1="717.80" y1="526.80" x2="746.50" y2="526.80" stroke="#2a2a2a" stroke-width="0.8" />
<polygon points="746.50,526.80 741.00,525.70 741.00,527.90" fill="#2a2a2a" stroke="#2a2a2a" stroke-width="0.3" stroke-linejoin="round"/>
<line x1="717.80" y1="546.90" x2="742.30" y2="546.90" stroke="#2a2a2a" stroke-width="0.8" />
<polygon points="742.30,546.90 736.80,545.80 736.80,548.00" fill="#2a2a2a" stroke="#2a2a2a" stroke-width="0.3" stroke-linejoin="round"/>
<text class="a" x="727.40" y="506.90" font-size="11.5" text-anchor="start" >A1</text>
<text class="a" x="717.00" y="524.40" font-size="11.5" text-anchor="start" >X1</text>
<text class="a" x="713.20" y="543.50" font-size="11.5" text-anchor="start" >Y1</text>
<rect x="669.40" y="624.30" width="125.30" height="73.70" fill="none" stroke="#505050" stroke-width="0.75"/>
<line x1="736.30" y1="624.30" x2="736.30" y2="682.30" stroke="#505050" stroke-width="0.75" />
<line x1="692.50" y1="682.30" x2="794.70" y2="682.30" stroke="#505050" stroke-width="0.75" />
<line x1="710.00" y1="672.10" x2="757.00" y2="672.10" stroke="#505050" stroke-width="0.75" />
<line x1="729.90" y1="667.60" x2="736.30" y2="667.60" stroke="#505050" stroke-width="0.75" />
<line x1="736.30" y1="667.60" x2="794.70" y2="667.60" stroke="#444" stroke-width="0.7" stroke-dasharray="2.2,1.6"/>
<rect x="736.30" y="663.60" width="20.60" height="8.50" fill="none" stroke="#505050" stroke-width="0.75"/>
<line x1="757.00" y1="666.10" x2="794.70" y2="666.10" stroke="#111" stroke-width="1.1" />
<line x1="757.00" y1="669.30" x2="794.70" y2="669.30" stroke="#111" stroke-width="1.1" />
<line x1="694.40" y1="643.30" x2="694.40" y2="682.30" stroke="#2a2a2a" stroke-width="0.8" />
<polygon points="694.40,682.30 693.30,676.80 695.50,676.80" fill="#2a2a2a" stroke="#2a2a2a" stroke-width="0.3" stroke-linejoin="round"/>
<line x1="712.00" y1="643.30" x2="712.00" y2="672.10" stroke="#2a2a2a" stroke-width="0.8" />
<polygon points="712.00,672.10 710.90,666.60 713.10,666.60" fill="#2a2a2a" stroke="#2a2a2a" stroke-width="0.3" stroke-linejoin="round"/>
<line x1="731.50" y1="643.30" x2="731.50" y2="667.40" stroke="#2a2a2a" stroke-width="0.8" />
<polygon points="731.50,667.40 730.40,661.90 732.60,661.90" fill="#2a2a2a" stroke="#2a2a2a" stroke-width="0.3" stroke-linejoin="round"/>
<text class="a" x="0.00" y="0.00" font-size="11.5" text-anchor="start" transform="translate(691.8,666.6) rotate(-90)" >A2</text>
<text class="a" x="0.00" y="0.00" font-size="11.5" text-anchor="start" transform="translate(709.3,661.3) rotate(-90)" >X2</text>
<text class="a" x="0.00" y="0.00" font-size="11.5" text-anchor="start" transform="translate(729.1,654.8) rotate(-90)" >Y2</text>
</svg>
</body></html>
